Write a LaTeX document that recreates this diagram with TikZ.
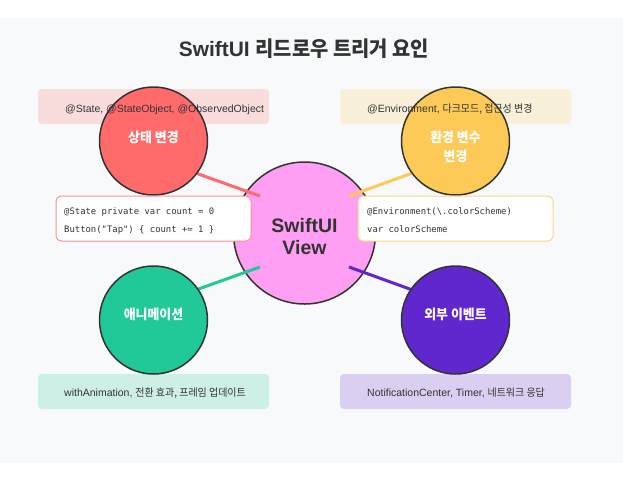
\documentclass[tikz,border=0pt]{standalone}
\usepackage{fontspec}
\setmainfont{Liberation Sans}
\setmonofont{DejaVu Sans Mono}
\newfontfamily\kr[FakeStretch=0.95]{Noto Sans CJK KR}
\definecolor{bg}{HTML}{F8F9FA}
\definecolor{ink}{HTML}{333333}
\definecolor{cred}{HTML}{FF6B6B}
\definecolor{cyel}{HTML}{FECA57}
\definecolor{cgrn}{HTML}{20C997}
\definecolor{cpur}{HTML}{5F27CD}
\definecolor{cpink}{HTML}{FF9FF3}
\tikzset{
  bubble/.style={circle, minimum size=108pt, inner sep=0pt, draw=ink, line width=1.5pt},
  bubtext/.style={anchor=base, text=white, inner sep=0pt, font=\kr\bfseries\fontsize{13.6}{17}\selectfont},
  tagbox/.style={rounded corners=4pt, draw=none},
  tagtext/.style={anchor=base west, inner sep=0pt, text=ink, font=\fontsize{10.5}{12}\selectfont},
  codebox/.style={rounded corners=5pt, fill=white, line width=1pt},
  codetext/.style={anchor=base west, inner sep=0pt, text=ink, font=\ttfamily\fontsize{8.9}{10}\selectfont},
  link/.style={line width=3pt},
}
\begin{document}
\begin{tikzpicture}[x=1pt, y=-1pt]
\path[use as bounding box, fill=white] (0,0) rectangle (623,477);
\fill[bg] (0,18) rectangle (623,463);
% title
\node[anchor=base, inner sep=0pt, text=ink, font=\bfseries\fontsize{20.9}{24}\selectfont] (title) at (304,56) {SwiftUI {\kr 리드로우 트리거 요인}};
% tag boxes
\fill[tagbox, cred!20!bg] (38,89) rectangle (269,124);
\fill[tagbox, cyel!20!bg] (340,89) rectangle (571,124);
\fill[tagbox, cgrn!20!bg] (38,374) rectangle (269,409);
\fill[tagbox, cpur!20!bg] (340,374) rectangle (571,409);
% center view
\node[circle, minimum size=142pt, inner sep=0pt, draw=ink, line width=1.5pt, fill=cpink] (view) at (304.5,233) {};
\node[anchor=base, inner sep=0pt, text=ink, font=\bfseries\fontsize{19.5}{22}\selectfont] (viewa) at (304.5,232) {SwiftUI};
\node[anchor=base, inner sep=0pt, text=ink, font=\bfseries\fontsize{19.5}{22}\selectfont] (viewb) at (304.5,254) {View};
% connectors
\coordinate (ra) at (260,196); \coordinate (rb) at (190,171);
\coordinate (ya) at (349,196); \coordinate (yb) at (418,171);
\coordinate (ga) at (260,267); \coordinate (gb) at (190,292);
\coordinate (pa) at (349,267); \coordinate (pb) at (418,292);
\draw[link, cred] (ra) -- (rb);
\draw[link, cyel] (ya) -- (yb);
\draw[link, cgrn] (ga) -- (gb);
\draw[link, cpur] (pa) -- (pb);
% outer bubbles
\node[bubble, fill=cred] (state) at (153.5,141) {};
\node[bubtext] (statel) at (153.5,142) {상태 변경};
\node[bubble, fill=cyel] (env) at (455.5,141) {};
\node[bubtext] (envl1) at (455.5,142) {환경 변수};
\node[bubtext] (envl2) at (455.5,161) {변경};
\node[bubble, fill=cgrn] (anim) at (153.5,320) {};
\node[bubtext] (animl) at (153.5,319) {애니메이션};
\node[bubble, fill=cpur] (ext) at (455.5,320) {};
\node[bubtext] (extl) at (455.5,319) {외부 이벤트};
% tag texts (drawn over the bubbles)
\node[tagtext] (tagst) at (65,112) {@State, @StateObject, @ObservedObject};
\node[tagtext] (tagenv) at (367,112) {@Environment, {\kr 다크모드, 접근성 변경}};
\node[tagtext] (taganim) at (64,396) {withAnimation, {\kr 전환 효과, 프레임 업데이트}};
\node[tagtext] (tagext) at (367,396) {NotificationCenter, Timer, {\kr 네트워크 응답}};
% code boxes
\draw[codebox, draw=cred!75!white] (56,196) rectangle (251,241);
\node[codetext] (code1) at (64,214) {@State private var count = 0};
\node[codetext] (code2) at (64,232) {Button("Tap") \{ count += 1 \}};
\draw[codebox, draw=cyel!75!white] (358,196) rectangle (553,241);
\node[codetext] (code3) at (367,214) {@Environment(\textbackslash.colorScheme)};
\node[codetext] (code4) at (367,232) {var colorScheme};
\end{tikzpicture}
\end{document}
